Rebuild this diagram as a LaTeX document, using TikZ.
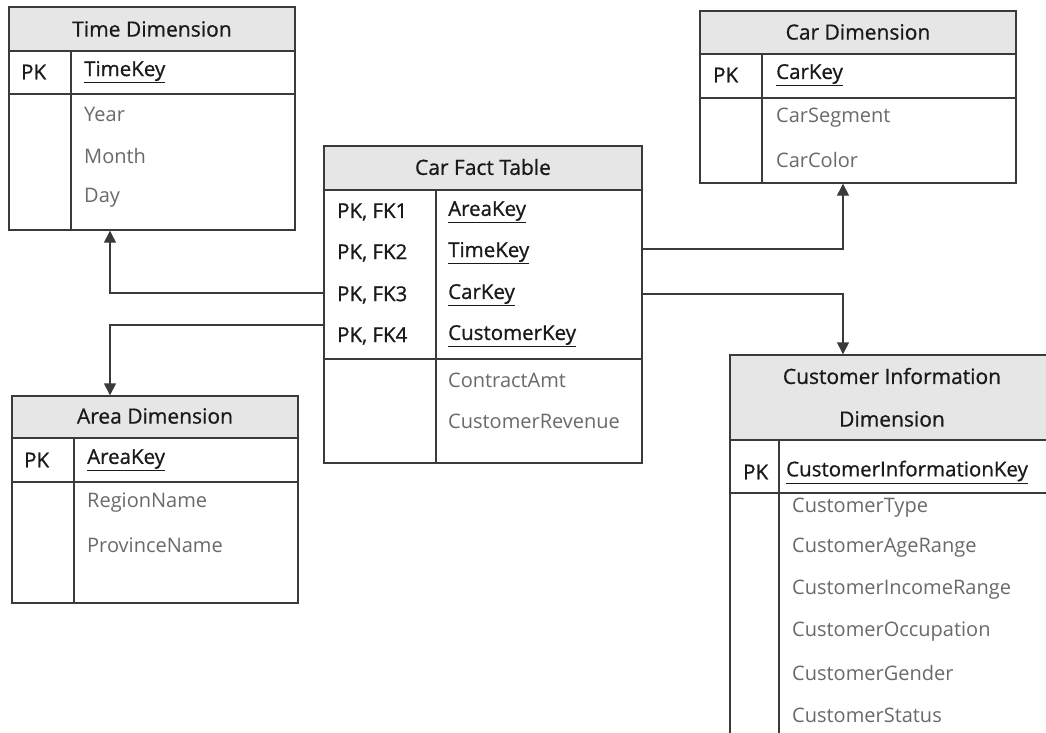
\documentclass[tikz,border=0pt]{standalone}
\usepackage{fontspec}
\setmainfont{Open Sans}
\newfontfamily\darkfont[FakeBold=0.8]{Open Sans}
\usetikzlibrary{arrows.meta,fit}
\definecolor{hdrfill}{HTML}{E6E6E6}
\definecolor{edgecol}{HTML}{3A3A3A}
\definecolor{fieldcol}{HTML}{6A6A6A}
\definecolor{keycol}{HTML}{1A1A1A}
\newcommand\ulkey[1]{\underline{#1}}
\begin{document}
\begin{tikzpicture}[x=1pt,y=-1pt,
  tframe/.style={draw=edgecol, line width=1.4pt, inner sep=0pt},
  rule/.style={draw=edgecol, line width=1.4pt},
  ttl/.style={text=keycol, font=\darkfont\fontsize{21}{22}\selectfont, inner sep=0pt},
  pk/.style={text=keycol, font=\darkfont\fontsize{20.5}{22}\selectfont, anchor=west, inner sep=0pt},
  kf/.style={text=keycol, font=\darkfont\fontsize{20.5}{22}\selectfont, anchor=west, inner sep=0pt},
  fld/.style={text=fieldcol, font=\fontsize{20}{22}\selectfont, anchor=west, inner sep=0pt},
  link/.style={draw=edgecol, line width=1.4pt, -{Triangle[length=12pt,width=12pt]}}]
\useasboundingbox (0,0) rectangle (1046,733);
\fill[white] (0,0) rectangle (1046,733);
\clip (0,0) rectangle (1046,733);

% ---------- Time Dimension ----------
\fill[hdrfill] (9,7) rectangle (295,51);
\node[tframe, fit={(9,7)(295,230)}] (time) {};
\draw[rule] (9,51) -- (295,51) (9,94) -- (295,94) (71,51) -- (71,230);
\node[ttl] (time-t) at (152,29) {Time Dimension};
\node[pk] (time-pk) at (21,72) {PK};
\node[kf] (time-k) at (84,72) {\ulkey{TimeKey}};
\node[fld] (time-f1) at (84,114) {Year};
\node[fld] (time-f2) at (84,156) {Month};
\node[fld] (time-f3) at (84,198) {Day};

% ---------- Car Dimension ----------
\fill[hdrfill] (700,11) rectangle (1016,54);
\node[tframe, fit={(700,11)(1016,183)}] (car) {};
\draw[rule] (700,54) -- (1016,54) (700,98) -- (1016,98) (762,54) -- (762,183);
\node[ttl] (car-t) at (858,32) {Car Dimension};
\node[pk] (car-pk) at (713,75) {PK};
\node[kf] (car-k) at (776,75) {\ulkey{CarKey}};
\node[fld] (car-f1) at (776,118) {CarSegment};
\node[fld] (car-f2) at (776,160) {CarColor};

% ---------- Car Fact Table ----------
\fill[hdrfill] (324,146) rectangle (642,190);
\node[tframe, fit={(324,146)(642,463)}] (fact) {};
\draw[rule] (324,190) -- (642,190) (324,359) -- (642,359) (436,190) -- (436,463);
\node[ttl] (fact-t) at (483,167) {Car Fact Table};
\node[pk] (fact-p1) at (337,212) {PK, FK1};
\node[pk] (fact-p2) at (337,253) {PK, FK2};
\node[pk] (fact-p3) at (337,295) {PK, FK3};
\node[pk] (fact-p4) at (337,336) {PK, FK4};
\node[kf] (fact-k1) at (448,212) {\ulkey{AreaKey}};
\node[kf] (fact-k2) at (448,253) {\ulkey{TimeKey}};
\node[kf] (fact-k3) at (448,295) {\ulkey{CarKey}};
\node[kf] (fact-k4) at (448,336) {\ulkey{CustomerKey}};
\node[fld] (fact-f1) at (448,380) {ContractAmt};
\node[fld] (fact-f2) at (448,421) {CustomerRevenue};

% ---------- Area Dimension ----------
\fill[hdrfill] (12,396) rectangle (298,438);
\node[tframe, fit={(12,396)(298,603)}] (area) {};
\draw[rule] (12,438) -- (298,438) (12,482) -- (298,482) (74,438) -- (74,603);
\node[ttl] (area-t) at (155,416) {Area Dimension};
\node[pk] (area-pk) at (24,460) {PK};
\node[kf] (area-k) at (87,460) {\ulkey{AreaKey}};
\node[fld] (area-f1) at (87,503) {RegionName};
\node[fld] (area-f2) at (87,545) {ProvinceName};

% ---------- Customer Information Dimension ----------
\fill[hdrfill] (730,355) rectangle (1060,440);
\node[tframe, fit={(730,355)(1060,745)}] (cust) {};
\draw[rule] (730,440) -- (1060,440) (730,493) -- (1060,493) (779,440) -- (779,745);
\node[ttl] (cust-t1) at (892,376) {Customer Information};
\node[ttl] (cust-t2) at (892,419) {Dimension};
\node[pk] (cust-pk) at (743,472) {PK};
\node[kf] (cust-k) at (786,472) {\ulkey{CustomerInformationKey}};
\node[fld] (cust-f1) at (792,508) {CustomerType};
\node[fld] (cust-f2) at (792,548) {CustomerAgeRange};
\node[fld] (cust-f3) at (792,590) {CustomerIncomeRange};
\node[fld] (cust-f4) at (792,632) {CustomerOccupation};
\node[fld] (cust-f5) at (792,673) {CustomerGender};
\node[fld] (cust-f6) at (792,715) {CustomerStatus};

% ---------- Relationships ----------
\draw[link] (fact.west |- 0,293) -| (time.south -| 110,0);
\draw[link] (fact.west |- 0,325) -| (area.north -| 110,0);
\draw[link] (fact.east |- 0,249) -| (car.south -| 843,0);
\draw[link] (fact.east |- 0,294) -| (cust.north -| 843,0);
\end{tikzpicture}
\end{document}
